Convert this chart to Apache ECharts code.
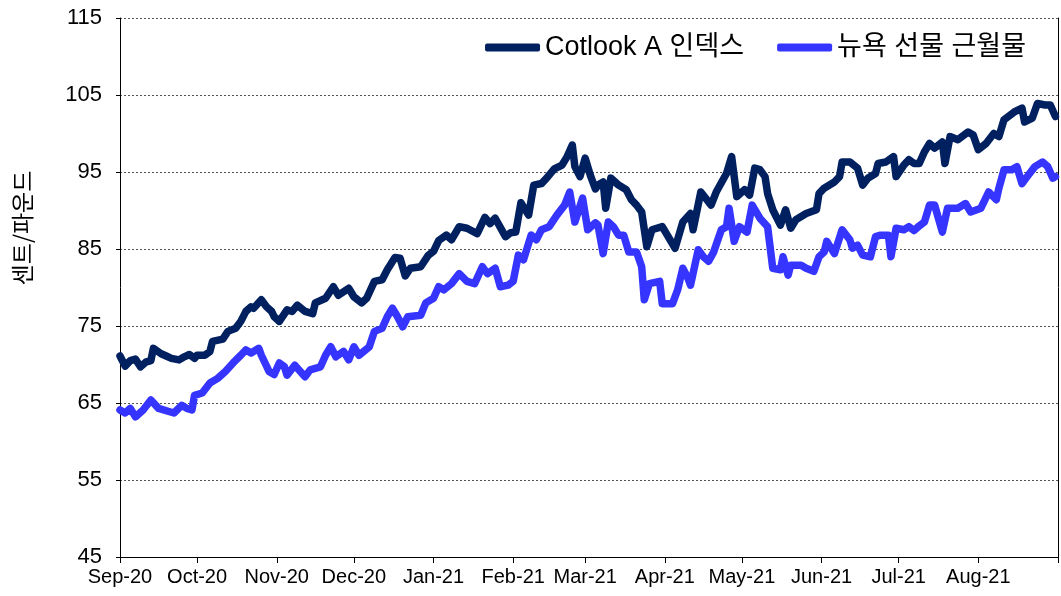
<!DOCTYPE html>
<html>
<head>
<meta charset="utf-8">
<script src="https://cdn.jsdelivr.net/npm/echarts@6/dist/echarts.min.js"></script>
<style>
  html, body { margin: 0; padding: 0; background: #fff; }
  #chart { width: 1061px; height: 596px; }
</style>
</head>
<body>
<div id="chart"></div>
<script>
// 기준일 2020-09-01 로부터의 일수
var cotlookDays = [0, 2, 4, 6, 8, 10, 12, 13, 16, 18, 20, 23, 25, 27, 29, 30, 33, 35, 36, 40,
    42, 45, 47, 49, 51, 52, 55, 57, 59, 60, 62, 65, 67, 69, 72, 75, 76, 80, 83, 85,
    89, 91, 94, 96, 99, 102, 104, 107, 109, 111, 113, 117, 120, 122, 124, 127, 129, 132, 135, 139,
    142, 144, 146, 150, 152, 154, 156, 159, 161, 164, 166, 169, 172, 174, 176, 177, 179, 181, 183, 185,
    186, 188, 189, 191, 194, 197, 199, 201, 203, 205, 207, 211, 216, 219, 222, 223, 226, 230, 232, 236,
    238, 240, 243, 245, 247, 249, 251, 252, 254, 257, 259, 261, 263, 267, 271, 272, 274, 278, 280, 281,
    284, 287, 289, 291, 294, 295, 298, 301, 302, 305, 307, 309, 311, 313, 315, 317, 320, 321, 323, 326,
    330, 332, 334, 337, 340, 342, 344, 348, 351, 352, 355, 357, 360, 362, 364];
var cotlook = [71.1, 69.8, 70.5, 70.7, 69.7, 70.3, 70.5, 72.1, 71.4, 71.1, 70.8, 70.6, 71.0, 71.3, 70.8, 71.2, 71.2, 71.7, 73.0, 73.3,
    74.3, 74.7, 75.6, 76.9, 77.5, 77.3, 78.4, 77.5, 76.9, 76.2, 75.6, 77.1, 76.9, 77.7, 76.9, 76.6, 78.0, 78.6, 80.1, 79.0,
    79.9, 78.8, 78.0, 78.6, 80.8, 81.0, 82.3, 83.9, 83.8, 81.5, 82.5, 82.7, 84.2, 84.7, 86.1, 86.8, 86.2, 87.9, 87.7, 87.0,
    89.1, 88.3, 89.0, 86.6, 87.1, 87.2, 91.0, 89.4, 93.3, 93.5, 94.2, 95.4, 95.9, 97.0, 98.5, 95.7, 94.4, 96.8, 94.6, 92.8,
    93.3, 93.7, 90.3, 94.2, 93.3, 92.7, 91.4, 90.7, 89.8, 85.3, 87.5, 87.9, 85.1, 88.5, 89.6, 87.5, 92.4, 90.7, 92.4, 94.8,
    97.0, 91.8, 92.7, 92.0, 95.5, 95.3, 94.4, 92.2, 90.1, 88.1, 90.1, 87.7, 88.8, 89.6, 90.1, 92.2, 92.9, 93.7, 94.4, 96.3,
    96.3, 95.5, 93.3, 94.2, 94.8, 96.1, 96.3, 97.0, 94.4, 95.9, 96.6, 96.1, 96.1, 97.6, 98.7, 98.1, 98.9, 96.1, 99.6, 99.2,
    100.2, 99.8, 97.9, 98.7, 100.0, 99.6, 101.8, 102.8, 103.3, 101.5, 102.0, 103.9, 103.7, 103.7, 102.2];

var futuresDays = [0, 2, 4, 6, 9, 12, 15, 19, 21, 24, 26, 28, 29, 32, 35, 38, 41, 44, 47, 49,
    51, 54, 55, 58, 60, 62, 64, 65, 68, 72, 74, 78, 80, 82, 84, 87, 89, 91, 93, 97,
    99, 102, 104, 106, 108, 110, 112, 117, 119, 122, 124, 126, 129, 132, 135, 138, 141, 143, 146, 148,
    151, 153, 155, 157, 160, 162, 164, 167, 170, 173, 175, 177, 180, 182, 185, 186, 188, 190, 192, 194,
    196, 198, 201, 203, 204, 206, 210, 211, 215, 217, 219, 221, 222, 225, 227, 229, 231, 234, 236, 237,
    239, 241, 244, 246, 249, 252, 254, 257, 258, 260, 261, 265, 267, 270, 272, 274, 275, 278, 281, 284,
    285, 287, 289, 292, 294, 296, 299, 300, 302, 305, 307, 309, 311, 313, 315, 317, 320, 322, 326, 329,
    331, 335, 338, 341, 342, 344, 347, 349, 351, 353, 356, 359, 361, 363, 364];
var futures = [64.1, 63.7, 64.3, 63.2, 64.1, 65.4, 64.3, 63.9, 63.7, 64.7, 64.3, 64.1, 66.0, 66.3, 67.6, 68.2, 69.1, 70.2, 71.2, 71.9,
    71.5, 72.1, 71.2, 69.1, 68.7, 70.2, 69.7, 68.6, 69.9, 68.4, 69.3, 69.7, 71.2, 72.3, 71.0, 71.7, 70.6, 72.3, 71.2, 72.3,
    74.3, 74.7, 76.2, 77.3, 76.2, 74.9, 76.2, 76.4, 78.0, 78.6, 80.1, 79.7, 80.5, 81.8, 80.8, 80.5, 82.7, 81.8, 82.5, 80.1,
    80.3, 80.8, 84.2, 83.6, 86.8, 86.2, 87.5, 87.9, 89.4, 90.7, 92.4, 88.5, 91.6, 87.5, 88.4, 88.1, 84.4, 88.5, 87.9, 86.8,
    86.8, 84.6, 84.6, 82.7, 78.4, 80.5, 80.8, 77.9, 77.9, 79.7, 82.5, 81.2, 80.3, 84.9, 84.0, 83.4, 84.6, 87.5, 87.9, 90.3,
    86.0, 87.9, 87.2, 90.7, 89.0, 87.9, 82.5, 82.3, 84.0, 81.6, 82.9, 82.9, 82.5, 82.1, 84.0, 84.6, 86.0, 84.4, 87.5, 86.2,
    85.1, 85.5, 84.2, 84.0, 86.6, 86.8, 86.8, 84.0, 87.7, 87.5, 87.9, 87.4, 88.0, 88.5, 90.7, 90.7, 87.2, 90.3, 90.3, 90.9,
    89.8, 90.3, 92.4, 91.4, 92.9, 95.3, 95.3, 95.7, 93.5, 94.4, 95.7, 96.3, 95.7, 94.2, 94.4];

var seriesNames = ['Cotlook A 인덱스', '뉴욕 선물 근월물'];
var monthNames = ['Jan', 'Feb', 'Mar', 'Apr', 'May', 'Jun', 'Jul', 'Aug', 'Sep', 'Oct', 'Nov', 'Dec'];
var cUnit = '센트/파운드';

function toPairs(aDays, aVal) {
    var aRes = [];
    for (var i = 0; i < aDays.length; i++) {
        aRes.push([new Date(2020, 8, 1 + aDays[i]).getTime(), aVal[i]]);
    }
    return aRes;
}

var nMin = new Date(2020, 8, 1).getTime();
var nMax = new Date(2021, 8, 1).getTime();
var cFont = '"Liberation Sans", Arial, "Noto Sans CJK KR", sans-serif';

var oChart = echarts.init(document.getElementById('chart'));
var oOption = {
    animation: false,
    textStyle: { fontFamily: cFont },
    grid: { left: 120, right: 2, top: 18, bottom: 39, containLabel: false },
    graphic: [
        {
            // 세로축 단위
            type: 'text',
            x: 22,
            y: 228,
            rotation: Math.PI / 2,
            style: {
                text: cUnit,
                fill: '#000',
                font: '23px "Noto Sans CJK KR", sans-serif',
                align: 'center',
                verticalAlign: 'middle'
            }
        }
    ],
    legend: {
        right: 30,
        top: 29,
        itemWidth: 55,
        itemHeight: 8,
        itemGap: 33,
        icon: 'roundRect',
        textStyle: { fontSize: 27, color: '#000', fontFamily: cFont },
        data: seriesNames
    },
    xAxis: {
        type: 'time',
        min: nMin,
        max: nMax,
        splitNumber: 12,
        minInterval: 28 * 86400000,
        maxInterval: 31 * 86400000,
        axisLine: { show: true, lineStyle: { color: '#000', width: 1 } },
        axisTick: { show: true, length: 6, lineStyle: { color: '#000' } },
        axisLabel: {
            fontSize: 20,
            color: '#000',
            margin: 10,
            fontFamily: cFont,
            hideOverlap: false,
            formatter: function (val) {
                if (val >= nMax) return '';
                var d = new Date(val);
                return monthNames[d.getMonth()] + '-' + String(d.getFullYear()).slice(2);
            }
        },
        splitLine: { show: false }
    },
    yAxis: [
        {
            type: 'value',
            min: 45,
            max: 115,
            interval: 10,
            axisLine: { show: true, lineStyle: { color: '#000', width: 1 } },
            axisTick: { show: true, length: 4, lineStyle: { color: '#000' } },
            axisLabel: { fontSize: 22, color: '#000', margin: 18, fontFamily: cFont },
            splitLine: { show: true, lineStyle: { color: '#555', type: [2, 2], width: 1 } }
        },
        {
            // 오른쪽 테두리
            type: 'value',
            position: 'right',
            min: 45,
            max: 115,
            interval: 10,
            axisLine: { show: true, lineStyle: { color: '#000', width: 1 } },
            axisTick: { show: false },
            axisLabel: { show: false },
            splitLine: { show: false }
        }
    ],
    series: [
        {
            name: seriesNames[0],
            type: 'line',
            showSymbol: false,
            symbol: 'none',
            lineStyle: { color: '#002060', width: 7.5, join: 'round', cap: 'round' },
            itemStyle: { color: '#002060' },
            data: toPairs(cotlookDays, cotlook),
            z: 3
        },
        {
            name: seriesNames[1],
            type: 'line',
            showSymbol: false,
            symbol: 'none',
            lineStyle: { color: '#3535ff', width: 7.5, join: 'round', cap: 'round' },
            itemStyle: { color: '#3535ff' },
            data: toPairs(futuresDays, futures),
            z: 2
        }
    ]
};
oChart.setOption(oOption);
</script>
</body>
</html>
